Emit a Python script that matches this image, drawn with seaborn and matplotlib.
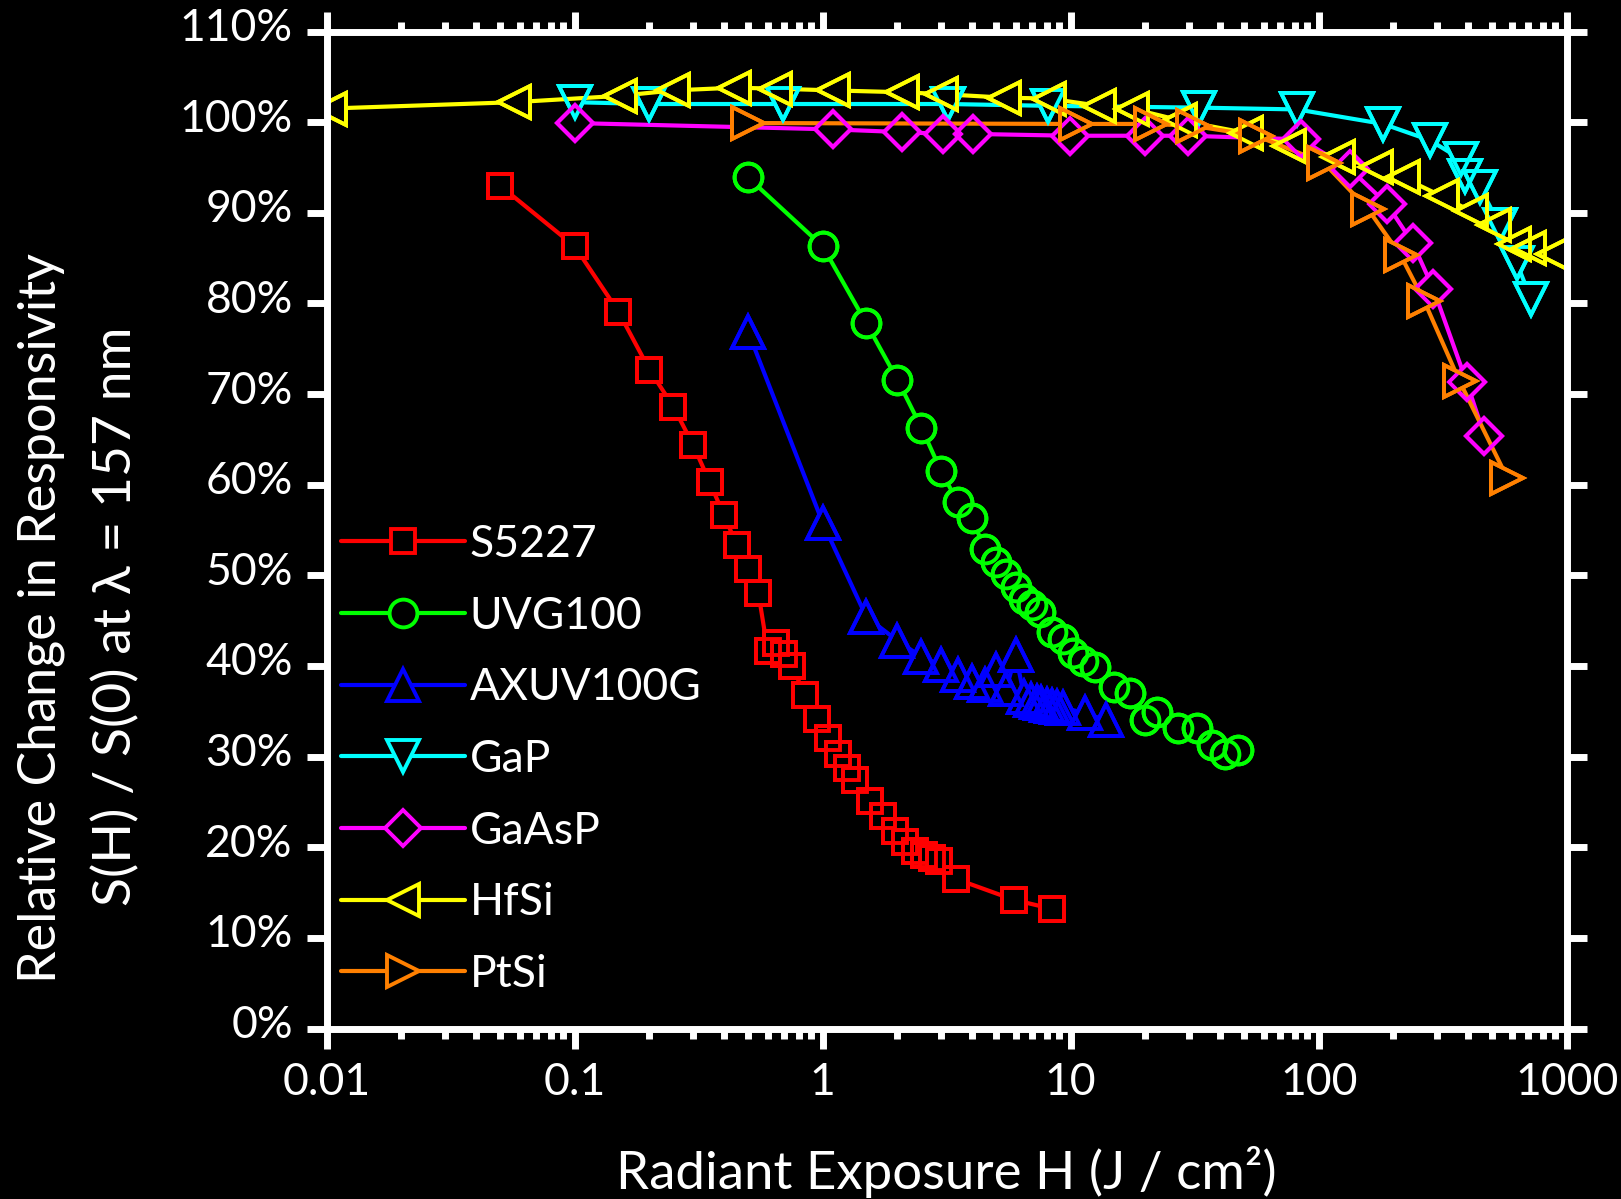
import numpy as np
import pandas as pd
import seaborn as sns
import matplotlib
matplotlib.use('Agg')
import matplotlib.pyplot as plt
from matplotlib.colors import to_hex
from matplotlib.ticker import LogLocator, NullFormatter
from matplotlib.transforms import ScaledTranslation

# radiant exposure H (J/cm^2) and S(H)/S(0) in % for each detector
s5227_h = [0.05, 0.1, 0.15, 0.2, 0.25, 0.3, 0.35, 0.4, 0.45, 0.5, 0.55, 0.6, 0.65, 0.7, 0.75,
           0.85, 0.95, 1.05, 1.15, 1.25, 1.35, 1.55, 1.75, 1.95, 2.15, 2.35, 2.55, 2.75, 2.95,
           3.45, 5.9, 8.4]
s5227_pct = [93.0, 86.3, 79.1, 72.7, 68.6, 64.4, 60.3, 56.6, 53.4, 50.7, 48.1, 41.7, 42.5, 41.3,
             40.0, 36.8, 34.2, 32.1, 30.3, 28.7, 27.4, 25.1, 23.4, 21.8, 20.6, 19.6, 19.1, 18.8,
             18.5, 16.5, 14.2, 13.2]

uvg100_h = [0.5, 1.0, 1.5, 2.0, 2.5, 3.0, 3.5, 4.0, 4.5, 5.0, 5.5, 6.0, 6.5, 7.0, 7.5, 8.4, 9.3,
            10.2, 11.2, 12.5, 14.9, 17.3, 19.9, 22.2, 27.2, 32.2, 37.1, 41.9, 47.4]
uvg100_pct = [93.9, 86.3, 77.8, 71.6, 66.3, 61.5, 58.1, 56.3, 52.9, 51.5, 50.2, 48.7, 47.4, 46.7,
              46.0, 43.7, 43.0, 41.4, 40.6, 39.9, 37.7, 37.0, 34.0, 34.9, 33.1, 33.1, 31.3, 30.3,
              30.7]

axuv_h = [0.5, 1.0, 1.5, 2.0, 2.5, 3.0, 3.5, 4.0, 4.5, 5.0, 5.5, 6.0, 6.5, 6.9, 7.3, 7.6, 8.0, 8.4,
          8.8, 9.3, 11.4, 13.9]
axuv_pct = [76.9, 55.8, 45.4, 42.8, 41.0, 40.1, 39.0, 38.2, 37.9, 39.5, 37.5, 41.2, 36.6, 36.2,
            36.0, 35.9, 35.7, 35.6, 35.5, 35.4, 34.8, 34.0]

gap_h = [0.1, 0.2, 0.69, 3.2, 8.1, 33, 82, 182, 281, 375, 390, 447, 538, 628, 718]
gap_pct = [102.2, 102.0, 102.0, 102.0, 101.8, 101.6, 101.4, 99.8, 98.0, 95.9, 94.1, 92.8, 88.6,
           84.5, 80.5]

gaasp_h = [0.1, 1.1, 2.08, 3.06, 4.05, 9.93, 19.9, 29.8, 85, 134, 188, 239, 290, 395, 466]
gaasp_pct = [99.9, 99.2, 98.9, 98.7, 98.7, 98.5, 98.5, 98.5, 98.1, 94.8, 91.0, 86.7, 81.6, 71.3,
             65.4]

hfsi_h = [0.0103, 0.057, 0.152, 0.25, 0.44, 0.64, 1.1, 2.08, 3.0, 5.4, 8.2, 13, 17.6, 27.5, 51,
          76, 120, 170, 218, 315, 410, 510, 615, 705, 880]
hfsi_pct = [101.5, 102.2, 102.9, 103.5, 103.8, 103.7, 103.5, 103.3, 103.1, 102.7, 102.6, 101.8,
            101.5, 100.2, 98.8, 97.4, 96.1, 95.0, 93.9, 91.8, 90.2, 88.6, 86.6, 86.1, 85.4]

ptsi_h = [0.5, 10.5, 21, 31, 56, 105, 158, 214, 266, 370, 577]
ptsi_pct = [99.9, 99.8, 99.8, 99.6, 98.5, 95.5, 90.4, 85.3, 80.3, 71.4, 60.7]

detectors = ['S5227', 'UVG100', 'AXUV100G', 'GaP', 'GaAsP', 'HfSi', 'PtSi']
colors = ['#ff0000', '#00ff00', '#0000ff', '#00ffff', '#ff00ff', '#ffff00', '#ff8000']
marker_list = ['s', 'o', '^', 'v', 'D', '<', '>']
msizes = [17, 20, 23, 23, 18, 23, 23]

x_ticks = [0.01, 0.1, 1, 10, 100, 1000]
x_ticklabels = ['0.01', '0.1', '1', '10', '100', '1000']
y_ticks = list(range(0, 111, 10))
y_ticklabels = [f'{v}%' for v in y_ticks]

all_h = [s5227_h, uvg100_h, axuv_h, gap_h, gaasp_h, hfsi_h, ptsi_h]
all_pct = [s5227_pct, uvg100_pct, axuv_pct, gap_pct, gaasp_pct, hfsi_pct, ptsi_pct]
frames = []
for name, h, pct in zip(detectors, all_h, all_pct):
    frames.append(pd.DataFrame({'H': h, 'ratio': pct, 'detector': name}))
df = pd.concat(frames, ignore_index=True)

sns.set_theme(style='ticks')
plt.rcParams['font.family'] = ['Lato', 'DejaVu Sans']
plt.rcParams['text.color'] = 'white'

W, H = 1621, 1199
fig = plt.figure(figsize=(W / 100, H / 100), dpi=100, facecolor='black')
ax = fig.add_axes([326.7 / W, 1 - 1028.5 / H, 1240 / W, 997 / H], facecolor='black')
ax.set_xscale('log')

palette = dict(zip(detectors, colors))
mk = dict(zip(detectors, marker_list))

# pass 1: lines with black-filled markers (hides the line inside each marker)
sns.lineplot(data=df, x='H', y='ratio', hue='detector', style='detector',
             hue_order=detectors, style_order=detectors, palette=palette, markers=mk,
             dashes=False, estimator=None, sort=False, legend=False, linewidth=3.0,
             markerfacecolor='black', mew=2.8, ax=ax)
n_first = len(ax.lines)
# pass 2: hollow outlines on top so overlapping markers stay visible
sns.lineplot(data=df, x='H', y='ratio', hue='detector', style='detector',
             hue_order=detectors, style_order=detectors, palette=palette, markers=mk,
             dashes=False, estimator=None, sort=False, legend=False, linestyle='',
             markerfacecolor='none', mew=2.8, ax=ax)

handles = {}
for i, line in enumerate(ax.lines):
    c = to_hex(line.get_color())
    idx = colors.index(c)
    line.set_markeredgecolor(c)
    line.set_markersize(msizes[idx])
    if i < n_first:
        handles[detectors[idx]] = line

ax.set_xlim(0.01, 1000)
ax.set_ylim(0, 110)
ax.set_xticks(x_ticks)
ax.set_xticklabels(x_ticklabels)
ax.xaxis.set_minor_locator(LogLocator(base=10, subs=np.arange(2, 10) * 1.0, numticks=20))
ax.xaxis.set_minor_formatter(NullFormatter())
ax.set_yticks(y_ticks)
ax.set_yticklabels(y_ticklabels)
ax.set_xlabel('')
ax.set_ylabel('')

for s in ax.spines.values():
    s.set_color('white')
    s.set_linewidth(5)
ax.tick_params(which='both', direction='out', colors='white', top=True, right=True,
               labeltop=False, labelright=False, width=5)
ax.tick_params(which='major', length=14.4, pad=10, labelsize=32, labelcolor='white')
ax.tick_params(which='minor', length=7.5)

# y tick labels sit a little above their ticks in the original
shift = ScaledTranslation(0, 7 / 100, fig.dpi_scale_trans)
for lab in ax.get_yticklabels():
    lab.set_transform(lab.get_transform() + shift)

ax.legend([handles[d] for d in detectors], detectors, loc='upper left',
          bbox_to_anchor=(341 / W, 1 - 524 / H), bbox_transform=fig.transFigure,
          frameon=False, numpoints=1, handlelength=2.78, handletextpad=0.11,
          labelspacing=0.69, borderpad=0, borderaxespad=0, fontsize=32, labelcolor='white')

fig.text(946.7 / W, 1 - 1189 / H, 'Radiant Exposure H (J / cm\u00b2)', ha='center',
         va='baseline', fontsize=38, color='white')
fig.text(41 / W, 1 - 618 / H, 'Relative Change in Responsivity', rotation=90,
         ha='center', va='center', fontsize=37.5, color='white')
fig.text(116 / W, 1 - 616 / H, 'S(H) / S(0) at \u03bb = 157 nm', rotation=90,
         ha='center', va='center', fontsize=38.5, color='white')

fig.savefig('out.png', dpi=100, facecolor='black')
